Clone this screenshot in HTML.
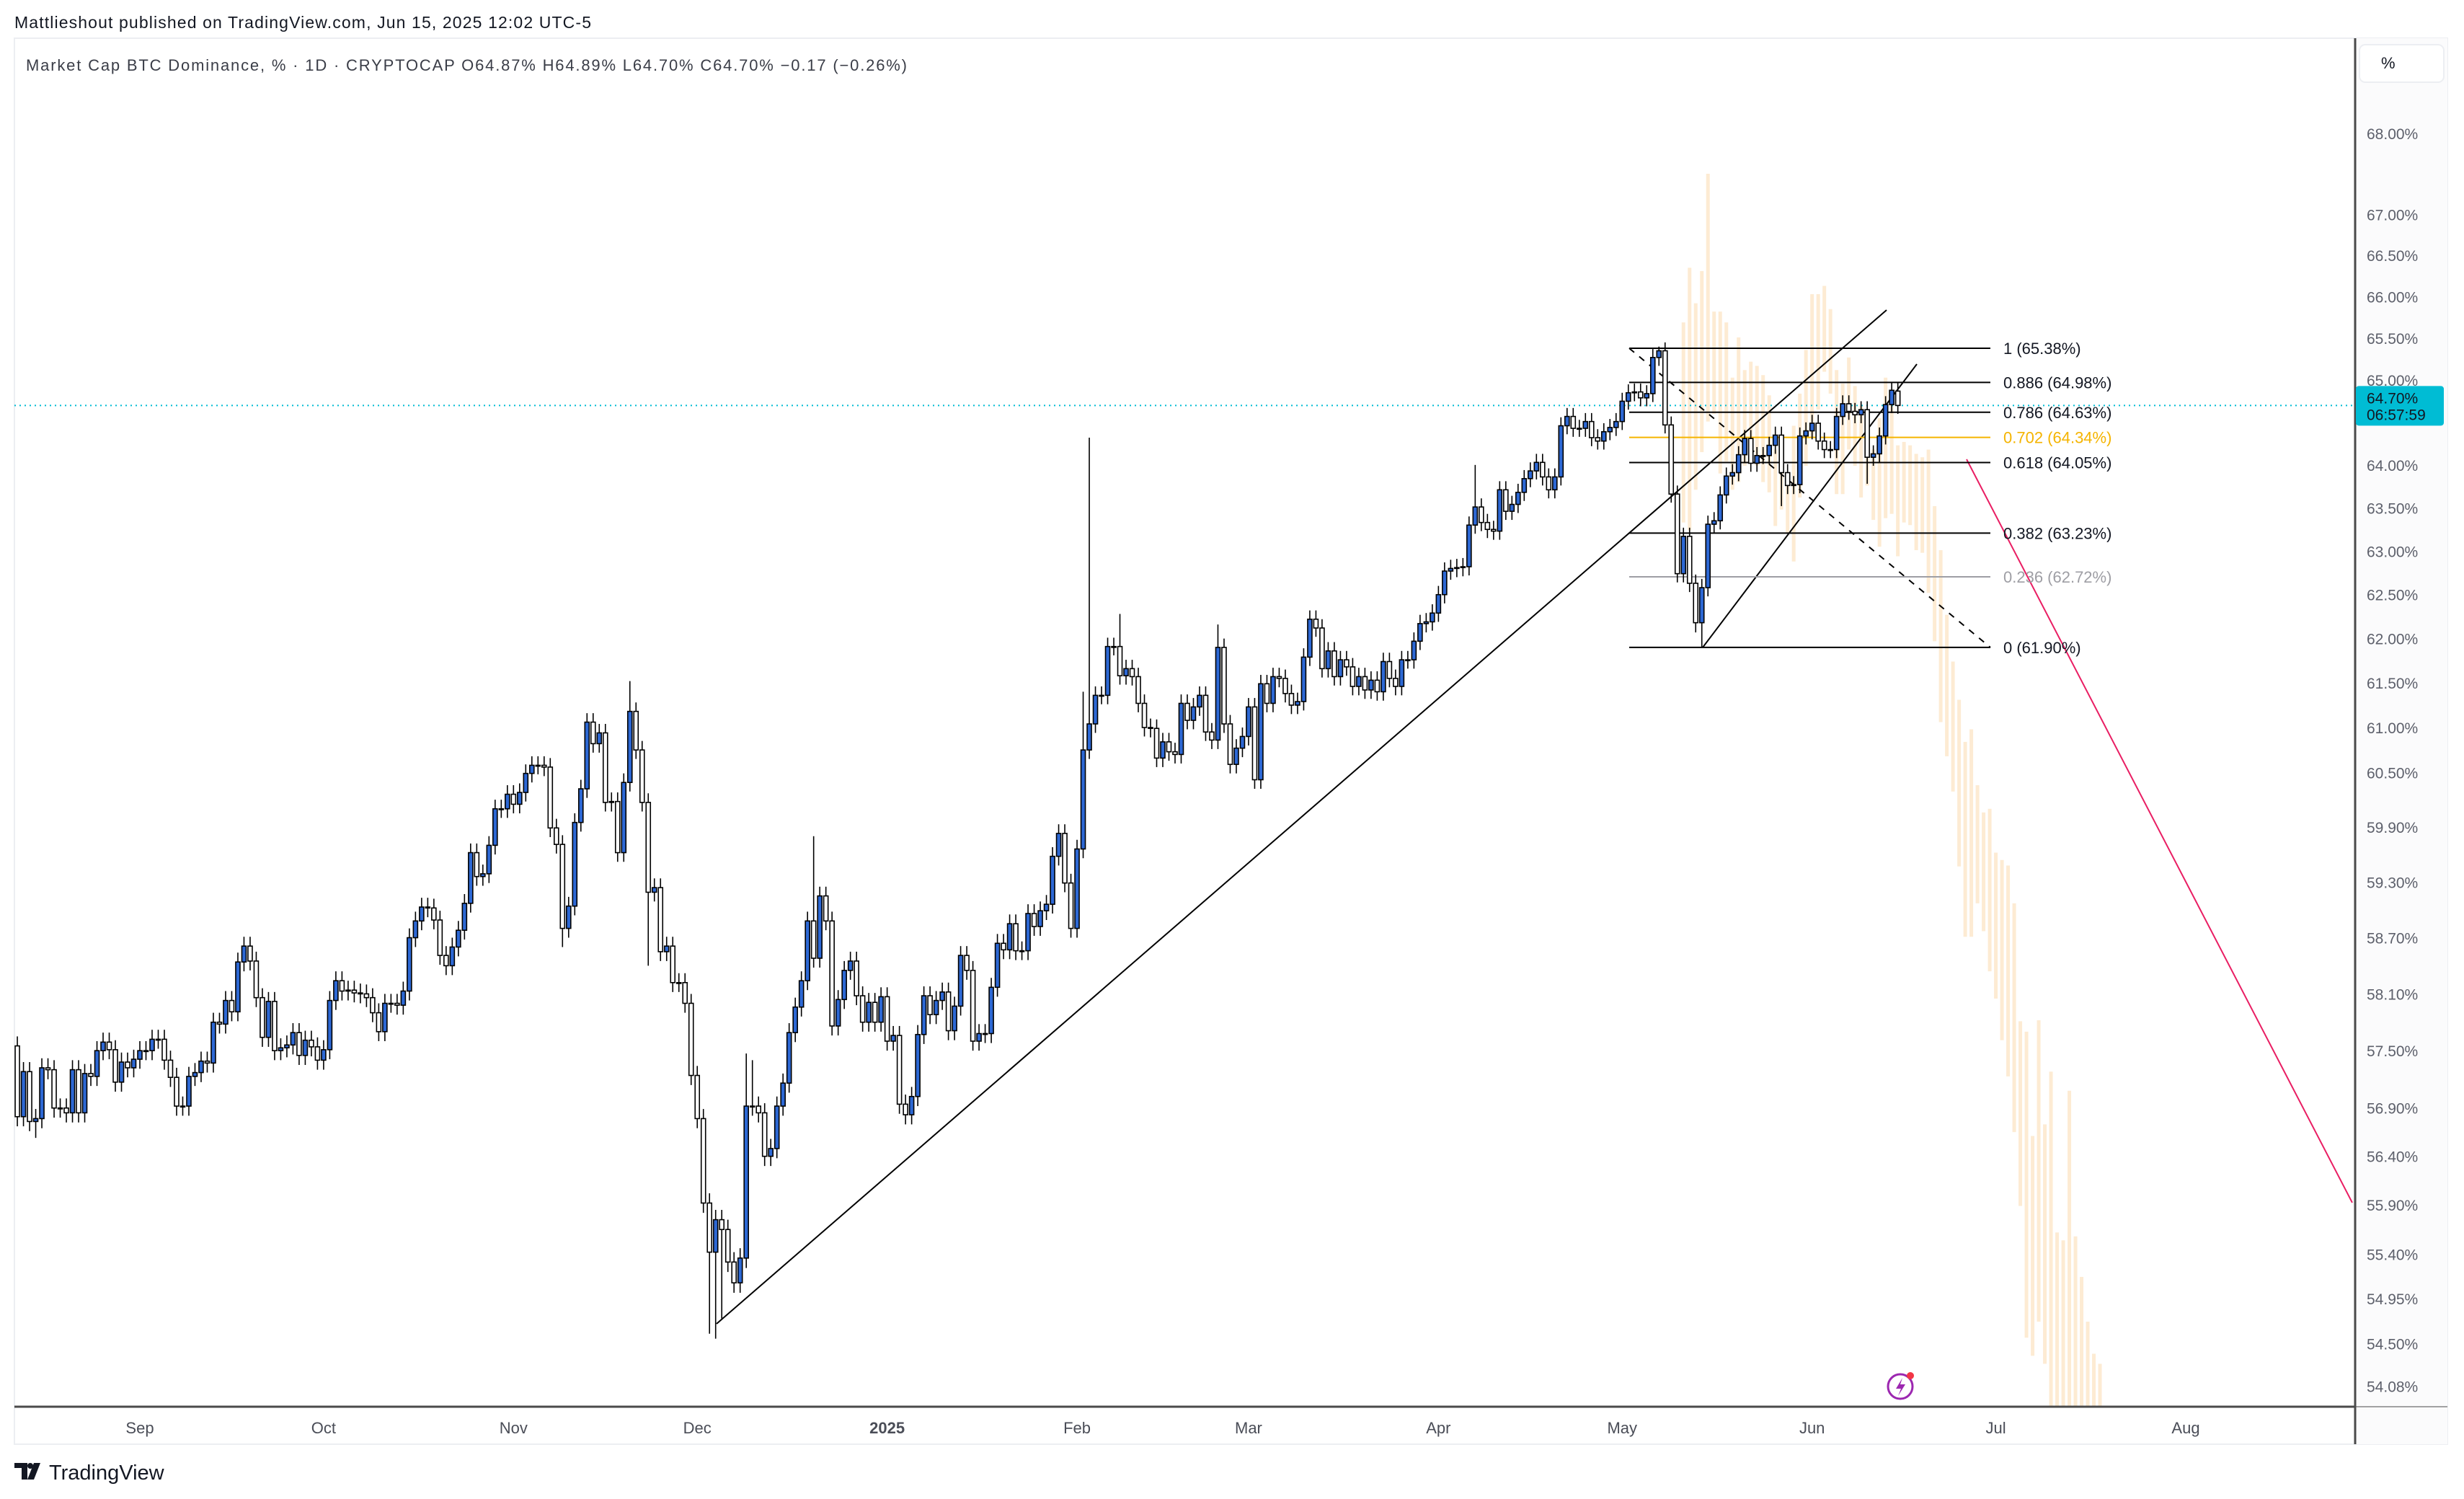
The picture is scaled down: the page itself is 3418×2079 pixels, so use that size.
<!DOCTYPE html>
<html><head><meta charset="utf-8"><title>BTC Dominance</title>
<style>
html,body{margin:0;padding:0;background:#fff;}
body{width:3418px;height:2074px;overflow:hidden;font-family:"Liberation Sans",sans-serif;}
svg text{font-family:"Liberation Sans",sans-serif;}
</style></head>
<body>
<svg id="chart" width="3418" height="2074" viewBox="0 0 3418 2074" xmlns="http://www.w3.org/2000/svg">
  <rect x="0" y="0" width="3418" height="2074" fill="#ffffff"/>
  <text x="20" y="39" font-size="23" fill="#131722" textLength="800">Mattlieshout published on TradingView.com, Jun 15, 2025 12:02 UTC-5</text>
  <rect x="20" y="53" width="3375" height="1950" fill="none" stroke="#eceef2" stroke-width="2"/>
  <rect x="3268" y="53" width="127" height="1950" fill="#fbfbfc"/>
  <text x="36" y="98" font-size="22" fill="#3a3d47" textLength="1222">Market Cap BTC Dominance, % · 1D · CRYPTOCAP  O64.87%  H64.89%  L64.70%  C64.70%  −0.17 (−0.26%)</text>
  <rect x="3273" y="62" width="117" height="52" rx="8" fill="#fff" stroke="#eceef2" stroke-width="2"/>
  <text x="3303" y="95" font-size="22" fill="#131722">%</text>
  <defs><clipPath id="plotClip"><rect x="20" y="53" width="3247" height="1898"/></clipPath></defs>
  <g id="ghost" clip-path="url(#plotClip)"></g>
  <g id="drawings" clip-path="url(#plotClip)"></g>
  <g id="candles" clip-path="url(#plotClip)"></g>
  <g id="axes"></g>
</svg>
<script>
const closes = [
56.81,57.28,56.76,56.79,57.32,57.30,56.90,56.90,56.85,57.30,56.85,57.26,57.23,57.50,57.59,57.51,57.17,57.38,57.32,57.41,
57.50,57.50,57.62,57.62,57.40,57.22,56.92,56.92,57.23,57.27,57.39,57.37,57.80,57.78,58.03,57.91,58.44,58.61,58.45,58.06,57.64,58.02,57.50,57.53,57.56,57.69,57.45,57.61,57.54,57.40,
57.51,58.03,58.24,58.13,58.14,58.11,58.10,58.06,57.90,57.70,58.00,58.00,57.98,58.13,58.70,58.88,59.03,59.02,58.89,58.51,58.40,58.60,58.78,59.07,59.62,59.36,59.39,59.70,60.10,60.10,60.26,
60.15,60.28,60.49,60.58,60.58,60.56,59.89,59.71,58.80,59.04,59.95,60.32,61.06,60.82,60.94,60.17,60.18,59.62,60.39,61.18,60.75,60.17,59.19,59.24,58.55,58.61,58.22,58.22,58.00,57.24,
56.79,55.92,55.42,55.75,55.65,55.32,55.11,55.36,56.92,56.92,56.85,56.40,56.48,56.92,57.16,57.69,57.96,58.24,58.88,58.48,59.15,58.88,57.76,58.04,58.35,58.45,58.08,57.80,58.01,57.80,58.07,
57.60,57.66,56.94,56.83,57.02,57.67,58.08,57.88,58.03,58.12,57.71,57.97,58.51,58.35,57.60,57.68,57.68,58.17,58.64,58.57,58.85,58.56,58.56,58.96,58.82,58.99,59.06,59.58,59.83,59.29,58.80,
59.66,60.75,61.04,61.36,61.36,61.91,61.91,61.58,61.66,61.57,61.27,61.00,60.99,60.66,60.84,60.73,60.70,61.27,61.08,61.23,61.36,60.95,60.86,61.90,61.04,60.59,60.77,60.90,
61.23,60.42,61.49,61.27,61.57,61.55,61.38,61.25,61.29,61.79,62.22,62.12,61.66,61.86,61.57,61.76,61.68,61.46,61.57,61.42,61.53,61.40,61.74,61.55,61.46,61.76,61.76,61.97,62.17,62.19,62.29,
62.50,62.77,62.80,62.81,62.82,63.30,63.51,63.33,63.25,63.23,63.71,63.46,63.54,63.68,63.84,63.93,64.03,63.86,63.71,63.86,64.46,64.57,64.43,64.43,64.51,64.32,64.28,64.39,64.44,64.51,
64.75,64.85,64.86,64.79,64.84,65.27,65.35,64.47,63.66,62.74,63.17,62.63,62.18,62.58,63.31,63.35,63.65,63.87,63.91,64.12,64.31,64.02,64.11,64.11,64.23,64.35,63.91,63.76,63.77,64.34,64.40,
64.49,64.28,64.18,64.18,64.57,64.72,64.63,64.59,64.65,64.09,64.13,64.34,64.71,64.88,64.70
];
const firstOpen = 57.55;
const lastOpen = 64.87;
const wickHighIdx = [100,119,120,130,174,175,180,196,238,268,306];
const wickHighVal = [61.52,57.47,57.40,59.80,61.40,64.32,62.28,62.16,64.00,65.40,64.98];
const wickLowIdx = [3,89,103,113,114,115,274,275,288,302];
const wickLowVal = [56.59,58.60,58.40,54.60,54.55,54.75,62.07,61.90,63.52,63.78];
const ghostStart = 272;
const ghostHigh = [65.69,66.35,65.92,66.31,67.50,65.82,65.82,65.69,65.03,65.51,65.12,65.22,65.17,65.06,64.82,64.18,64.18,63.90,64.46,64.84,65.36,66.03,66.03,66.13,65.85,65.12,64.96,65.27,64.93,64.70,64.60,64.18,64.55,65.03,64.84,64.23,64.27,64.23,64.13,64.09,64.18,63.52,63.01,62.27,61.74,61.31,60.84,60.98,60.36,60.06,60.10,59.62,59.54,59.48,59.07,57.81,57.70,56.61,57.82,56.73,57.28,55.62,55.54,57.08,55.58,55.17,54.72,54.40,54.30];
const ghostLow = [63.33,63.24,63.71,64.15,64.51,64.60,63.90,64.04,63.71,63.80,63.99,64.04,63.99,63.80,63.68,63.29,63.48,63.21,62.88,63.62,63.99,64.32,64.65,65.10,64.84,63.66,63.66,64.18,63.99,63.62,63.76,63.36,63.05,63.38,63.43,62.94,63.33,63.30,63.01,62.98,62.52,61.97,61.06,60.68,60.29,59.47,58.71,58.71,59.07,58.77,58.34,58.05,57.61,57.23,56.65,55.89,54.56,54.38,54.72,54.30,53.80,53.80,53.80,53.80,53.80,53.80,53.80,53.80,53.80];
const priceTicks = [68,67,66.5,66,65.5,65,64,63.5,63,62.5,62,61.5,61,60.5,59.9,59.3,58.7,58.1,57.5,56.9,56.4,55.9,55.4,54.95,54.5,54.08];
const monthLabels = ["Sep","Oct","Nov","Dec","2025","Feb","Mar","Apr","May","Jun","Jul","Aug"];
const monthDays = [0,30,61,91,122,153,181,212,242,273,303,334];
const fibRatios = [1,0.886,0.786,0.702,0.618,0.382,0.236,0];
const fibLabels = ["1 (65.38%)","0.886 (64.98%)","0.786 (64.63%)","0.702 (64.34%)","0.618 (64.05%)","0.382 (63.23%)","0.236 (62.72%)","0 (61.90%)"];
const fibHigh = 65.38, fibLow = 61.90;
const lastPrice = 64.70;

const NS = "http://www.w3.org/2000/svg";
function yOf(p){ return 185 + 7585*Math.log(68/p); }
function xOfDay(d){ return 194 + 8.497*d; }
function xOfIdx(i){ return xOfDay(i-20); }
function mk(tag, attrs, parent){
  const e = document.createElementNS(NS, tag);
  for (const k in attrs) e.setAttribute(k, attrs[k]);
  parent.appendChild(e); return e;
}
const gC = document.getElementById('candles');
const gG = document.getElementById('ghost');
const gD = document.getElementById('drawings');
const gA = document.getElementById('axes');

for (let j=0;j<ghostHigh.length;j++){
  const x = xOfIdx(ghostStart+j);
  const y1 = yOf(ghostHigh[j]), y2 = yOf(ghostLow[j]);
  const r = mk('rect',{x:x-2.5,y:y1,width:5,height:y2-y1,fill:'#fdebd3'},gG);
  
  
}

for (let i=0;i<closes.length;i++){
  const o = i===0?firstOpen:(i===closes.length-1?lastOpen:closes[i-1]);
  const c = closes[i];
  let hi = Math.max(o,c)+0.1, lo = Math.min(o,c)-0.1;
  const hk = wickHighIdx.indexOf(i); if (hk>=0) hi = wickHighVal[hk];
  const lk = wickLowIdx.indexOf(i); if (lk>=0) lo = wickLowVal[lk];
  const x = xOfIdx(i);
  const g = mk('g',{},gC);
  
  
  mk('line',{x1:x,x2:x,y1:yOf(hi),y2:yOf(lo),stroke:'#000',"stroke-width":1.6},g);
  const yt = yOf(Math.max(o,c)), yb = yOf(Math.min(o,c));
  mk('rect',{x:x-3,y:yt,width:6,height:Math.max(1.2,yb-yt),fill:c>=o?'#2d68d4':'#ffffff',stroke:'#000',"stroke-width":1.6},g);
}

const lp = mk('line',{x1:20,x2:3267,y1:yOf(lastPrice),y2:yOf(lastPrice),stroke:'#00bcd4',"stroke-width":2,"stroke-dasharray":"2 5"},gD);



const t1 = mk('line',{x1:994,y1:1836,x2:2617,y2:430,stroke:'#000',"stroke-width":2},gD);


const t2 = mk('line',{x1:2362,y1:yOf(61.90),x2:2659,y2:505,stroke:'#000',"stroke-width":2},gD);


const t3 = mk('line',{x1:2728,y1:637,x2:3263,y2:1668,stroke:'#e91e63',"stroke-width":2},gD);


const t4 = mk('line',{x1:2260,y1:yOf(fibHigh),x2:2761,y2:yOf(fibLow),stroke:'#000',"stroke-width":2,"stroke-dasharray":"9 9"},gD);



for (let k=0;k<fibRatios.length;k++){
  const r = fibRatios[k];
  const p = Math.exp(Math.log(fibLow) + r*(Math.log(fibHigh)-Math.log(fibLow)));
  const y = yOf(p);
  const col = r===0.702?'#f5b400':(r===0.236?'#9e9ea4':'#000');
  const ln = mk('line',{x1:2260,x2:2761,y1:y,y2:y,stroke:col,"stroke-width":2},gD);
  
  
  const t = mk('text',{x:2779,y:y+8,"font-size":22,fill:col==='#000'?'#131722':col},gA);
  t.textContent = fibLabels[k];
  
  
}

const ax1 = mk('line',{x1:3267,x2:3267,y1:53,y2:2003,stroke:'#4a4a4a',"stroke-width":3},gA);


const ax2 = mk('line',{x1:20,x2:3267,y1:1951,y2:1951,stroke:'#4a4a4a',"stroke-width":3},gA);


const ax3 = mk('line',{x1:3267,x2:3395,y1:1951,y2:1951,stroke:'#4a4a4a',"stroke-width":1},gA);



for (const p of priceTicks){
  const t = mk('text',{x:3283,y:yOf(p)+8,"font-size":21,fill:'#5d606b'},gA);
  t.textContent = p.toFixed(2)+'%';
  
  
}
for (let k=0;k<monthLabels.length;k++){
  const t = mk('text',{x:xOfDay(monthDays[k]),y:1988,"font-size":22,fill:'#4a4d57',"text-anchor":"middle","font-weight":monthLabels[k]==='2025'?'bold':'normal'},gA);
  t.textContent = monthLabels[k];
  
  
}

const yl = yOf(lastPrice);
const badge = mk('rect',{x:3268,y:yl-27,width:122,height:55,rx:4,fill:'#00bcd4'},gA);


const b1 = mk('text',{x:3283,y:yl-3,"font-size":21,fill:'#131722'},gA);
b1.textContent = lastPrice.toFixed(2)+'%';


const b2 = mk('text',{x:3283,y:yl+20,"font-size":21,fill:'#131722'},gA);
b2.textContent = '06:57:59';



const ic = mk('g',{},gA);


mk('circle',{cx:2636,cy:1923,r:17,fill:'#fff',stroke:'#9c27b0',"stroke-width":3},ic);
mk('path',{d:'M2639 1911 L2630 1926 L2637 1926 L2633 1936 L2643 1920 L2636 1920 Z',fill:'#9c27b0'},ic);
mk('circle',{cx:2650,cy:1908,r:5,fill:'#f23645'},ic);

const lg = mk('g',{},gA);


mk('path',{d:'M20 2029 H38 V2052 H30 V2036 H20 Z',fill:'#131722'},lg);
mk('circle',{cx:42,cy:2033,r:4,fill:'#131722'},lg);
mk('path',{d:'M47 2029 H56 L47 2052 H38 Z',fill:'#131722'},lg);
const lt = mk('text',{x:68,y:2052,"font-size":29,fill:'#131722'},lg);
lt.textContent = 'TradingView';


</script>
</body></html>
